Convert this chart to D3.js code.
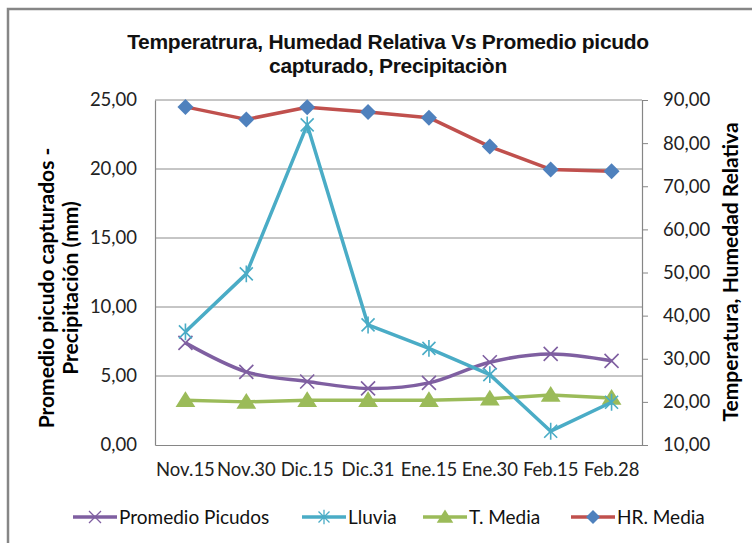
<!DOCTYPE html>
<html>
<head>
<meta charset="utf-8">
<script src="https://cdn.jsdelivr.net/npm/d3@7"></script>
<style>
  body { margin: 0; background: #fff; }
  svg { display: block; }
</style>
</head>
<body>
<svg id="chart"></svg>
<script>
// data
let fechas = ["Nov.15", "Nov.30", "Dic.15", "Dic.31", "Ene.15", "Ene.30", "Feb.15", "Feb.28"];
let picudos = [7.4, 5.3, 4.6, 4.1, 4.5, 6.0, 6.6, 6.1];
let lluvia = [8.2, 12.4, 23.2, 8.7, 7.0, 5.1, 1.0, 3.1];
let tMedia = [20.4, 20.0, 20.4, 20.4, 20.4, 20.7, 21.6, 20.9];
let hrMedia = [88.4, 85.5, 88.3, 87.2, 85.9, 79.2, 73.9, 73.5];
let leftTicks = [0, 5, 10, 15, 20, 25];
let rightTicks = [10, 20, 30, 40, 50, 60, 70, 80, 90];

let width = 752;
let height = 543;

let plotLeft = 155;
let plotRight = 642;
let plotTop = 100;
let plotBottom = 445;

let fmt = (v) => d3.format(".2f")(v).replace(".", ",");

let svg = d3.select("#chart").attr("width", width).attr("height", height);

// outer frame of the chart
svg
  .append("rect")
  .attr("x", 8)
  .attr("y", 9)
  .attr("width", 800)
  .attr("height", 600)
  .attr("fill", "none")
  .attr("stroke", "#868686")
  .attr("stroke-width", 2.5);

let xScale = d3.scaleBand().domain(fechas).range([plotLeft, plotRight]);
let yLeft = d3.scaleLinear().domain([0, 25]).range([plotBottom, plotTop]);
let yRight = d3.scaleLinear().domain([10, 90]).range([plotBottom, plotTop]);

let cx = (d, i) => xScale(fechas[i]) + xScale.bandwidth() / 2;

// gridlines
svg
  .append("g")
  .selectAll("line")
  .data(leftTicks.slice(1))
  .join("line")
  .attr("x1", plotLeft)
  .attr("x2", plotRight)
  .attr("y1", (d) => yLeft(d))
  .attr("y2", (d) => yLeft(d))
  .attr("stroke", "#8c8c8c")
  .attr("stroke-width", 1);

let tickFont = "Lato, 'Open Sans', sans-serif";

// left axis
let gLeft = svg
  .append("g")
  .attr("transform", "translate(" + plotLeft + ",0)")
  .call(d3.axisLeft(yLeft).tickValues(leftTicks).tickFormat(fmt).tickSize(0).tickPadding(18));

// right axis
let gRight = svg
  .append("g")
  .attr("transform", "translate(" + plotRight + ",0)")
  .call(d3.axisRight(yRight).tickValues(rightTicks).tickFormat(fmt).tickSize(6).tickSizeOuter(0).tickPadding(15));

// bottom axis
let gBottom = svg
  .append("g")
  .attr("transform", "translate(0," + plotBottom + ")")
  .call(d3.axisBottom(xScale).tickSize(0).tickPadding(18));

[gLeft, gRight, gBottom].forEach((g) => {
  g.select(".domain").attr("stroke", "#868686").attr("stroke-width", 1.2);
  g.selectAll(".tick line").attr("stroke", "#868686");
  g.selectAll("text")
    .attr("fill", "#222")
    .style("font-family", tickFont)
    .style("font-size", "18.5px");
});
gBottom.selectAll("text").style("font-size", "18.5px");

// series
let purple = "#7f5fa1";
let cyan = "#4aacc6";
let green = "#9bbb59";
let red = "#c0504d";
let blue = "#4f81bd";

function drawLine(values, scale, color, curve) {
  svg
    .append("path")
    .datum(values)
    .attr("fill", "none")
    .attr("stroke", color)
    .attr("stroke-width", 3.5)
    .attr("stroke-linejoin", "round")
    .attr(
      "d",
      d3
        .line()
        .curve(curve)
        .x((d, i) => cx(d, i))
        .y((d) => scale(d))
    );
}

function markerPath(type, s) {
  if (type == "x") {
    return "M" + -s + "," + -s + "L" + s + "," + s + "M" + -s + "," + s + "L" + s + "," + -s;
  }
  if (type == "star") {
    return (
      "M" + -s + "," + -s + "L" + s + "," + s + "M" + -s + "," + s + "L" + s + "," + -s +
      "M0," + -s * 1.3 + "L0," + s * 1.3
    );
  }
  if (type == "tri") {
    return "M0," + -s + "L" + s * 1.1 + "," + s * 0.75 + "L" + -s * 1.1 + "," + s * 0.75 + "Z";
  }
  // diamond
  return "M0," + -s + "L" + s + ",0L0," + s + "L" + -s + ",0Z";
}

function drawMarkers(values, scale, type, color, s) {
  let filled = type == "tri" || type == "diamond";
  svg
    .append("g")
    .selectAll("path")
    .data(values)
    .join("path")
    .attr("transform", (d, i) => "translate(" + cx(d, i) + "," + scale(d) + ")")
    .attr("d", markerPath(type, s))
    .attr("fill", filled ? color : "none")
    .attr("stroke", color)
    .attr("stroke-width", filled ? 0 : 1.6);
}

drawLine(tMedia, yRight, green, d3.curveLinear);
drawMarkers(tMedia, yRight, "tri", green, 9);

drawLine(picudos, yLeft, purple, d3.curveCardinal.tension(0));
drawMarkers(picudos, yLeft, "x", purple, 7);

drawLine(lluvia, yLeft, cyan, d3.curveLinear);
drawMarkers(lluvia, yLeft, "star", cyan, 6.5);

drawLine(hrMedia, yRight, red, d3.curveLinear);
drawMarkers(hrMedia, yRight, "diamond", blue, 8);

// title
let title = svg
  .append("text")
  .attr("x", 388)
  .attr("text-anchor", "middle")
  .style("font-family", "'Liberation Sans', Arial, sans-serif")
  .style("font-weight", "bold")
  .style("font-size", "21px")
  .style("letter-spacing", "-0.3px")
  .attr("fill", "#111");
title.append("tspan").attr("x", 388).attr("y", 49).text("Temperatrura, Humedad Relativa Vs  Promedio picudo");
title.append("tspan").attr("x", 388).attr("y", 73).text("capturado, Precipitaciòn");

// axis titles
let axisTitleFont = "Lato, 'Open Sans', sans-serif";
let leftTitle = svg
  .append("text")
  .attr("transform", "translate(0,288) rotate(-90)")
  .attr("text-anchor", "middle")
  .style("font-family", axisTitleFont)
  .style("font-weight", "bold")
  .style("font-size", "21px")
  .attr("fill", "#000");
leftTitle.append("tspan").attr("x", 0).attr("y", 54).text("Promedio picudo capturados -");
leftTitle.append("tspan").attr("x", 0).attr("y", 78).text("Precipitación (mm)");

svg
  .append("text")
  .attr("transform", "translate(738,272) rotate(-90)")
  .attr("text-anchor", "middle")
  .style("font-family", axisTitleFont)
  .style("font-weight", "bold")
  .style("font-size", "21px")
  .attr("fill", "#000")
  .text("Temperatura, Humedad Relativa");

// legend
let legendItems = [
  { name: "Promedio Picudos", color: purple, mcolor: purple, type: "x", s: 6, x: 73 },
  { name: "Lluvia", color: cyan, mcolor: cyan, type: "star", s: 5.5, x: 302 },
  { name: "T. Media", color: green, mcolor: green, type: "tri", s: 7.5, x: 423 },
  { name: "HR. Media", color: red, mcolor: blue, type: "diamond", s: 7, x: 571 },
];

let legendY = 517;
let legend = svg
  .append("g")
  .selectAll("g")
  .data(legendItems)
  .join("g")
  .attr("transform", (d) => "translate(" + d.x + "," + legendY + ")");

legend
  .append("line")
  .attr("x1", 0)
  .attr("x2", 44)
  .attr("stroke", (d) => d.color)
  .attr("stroke-width", 3.5);

legend
  .append("path")
  .attr("transform", "translate(22,0)")
  .attr("d", (d) => markerPath(d.type, d.s))
  .attr("fill", (d) => (d.type == "tri" || d.type == "diamond" ? d.mcolor : "none"))
  .attr("stroke", (d) => d.mcolor)
  .attr("stroke-width", (d) => (d.type == "tri" || d.type == "diamond" ? 0 : 1.3));

legend
  .append("text")
  .attr("x", 46)
  .attr("y", 6.5)
  .style("font-family", tickFont)
  .style("font-size", "19px")
  .attr("fill", "#111")
  .text((d) => d.name);
</script>
</body>
</html>
